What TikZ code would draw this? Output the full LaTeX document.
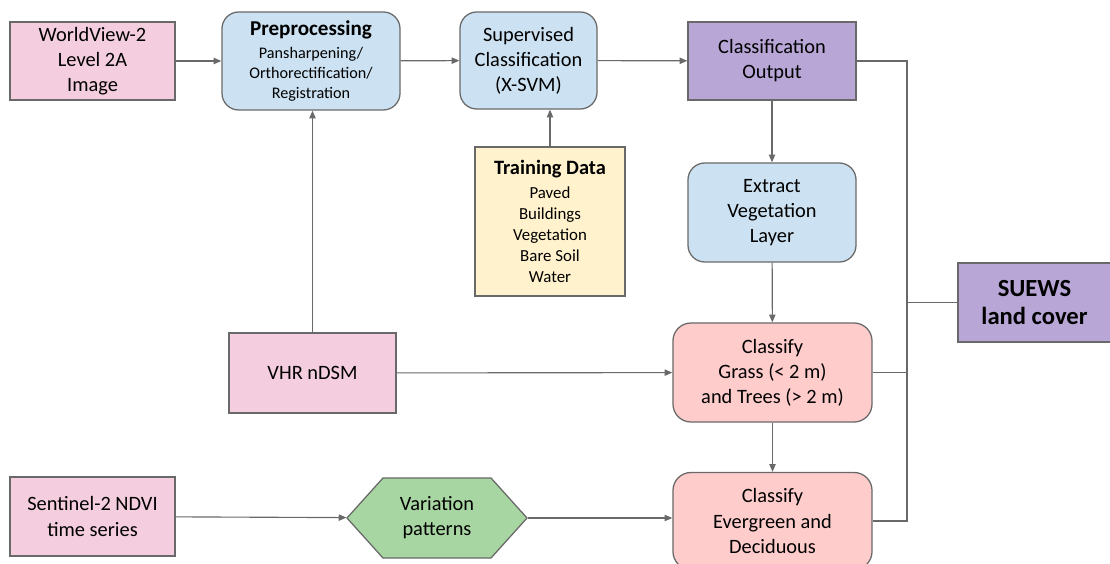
\documentclass[tikz,border=0pt]{standalone}
\usepackage{fontspec}
\setmainfont{Carlito}
\usetikzlibrary{arrows.meta}
\usetikzlibrary{shapes.symbols}
\definecolor{input-pink}{RGB}{244,206,222}
\definecolor{proc-blue}{RGB}{204,226,242}
\definecolor{out-purple}{RGB}{183,166,214}
\definecolor{data-yellow}{RGB}{255,242,204}
\definecolor{class-red}{RGB}{255,204,204}
\definecolor{hex-green}{RGB}{168,214,162}
\definecolor{edge-gray}{RGB}{105,105,105}
\newcommand{\mainsize}{\fontsize{14.5}{17.8}\selectfont}
\newcommand{\subsize}{\fontsize{11.5}{14.2}\selectfont}
\newcommand{\listsize}{\fontsize{12}{15}\selectfont}

\begin{document}
\begin{tikzpicture}[x=0.025cm,y=-0.025cm,
  box/.style={draw=edge-gray, line width=0.9pt, align=center, inner sep=0pt, font=\mainsize},
  inbox/.style={box, fill=input-pink},
  procbox/.style={box, fill=proc-blue, rounded corners=0.42cm},
  outbox/.style={box, fill=out-purple},
  databox/.style={box, fill=data-yellow, font=\listsize},
  classbox/.style={box, fill=class-red, rounded corners=0.45cm},
  hexbox/.style={box, fill=hex-green, signal, signal to=east and west, signal pointer angle=96},
  flow/.style={draw=edge-gray, line width=0.8pt, -{Triangle[length=5.5pt,width=4.5pt]}},
  link/.style={draw=edge-gray, line width=0.8pt}]
\useasboundingbox (0,0) rectangle (1110,564);

% inputs
\node[inbox, minimum width=4.125cm, minimum height=1.95cm] (wv) at (92.5,61) {WorldView-2\\Level 2A\\Image};
\node[inbox, minimum width=4.175cm, minimum height=2cm] (vhr) at (312.5,373) {VHR nDSM};
\node[inbox, minimum width=4.125cm, minimum height=1.975cm] (sent) at (92.5,516.5) {Sentinel-2 NDVI\\time series};

% processing chain
\node[procbox, minimum width=4.45cm, minimum height=2.45cm, font=\subsize] (prep) at (311,61)
  {{\fontsize{15}{15}\selectfont\bfseries Preprocessing}\\[2pt]Pansharpening/\\Orthorectification/\\Registration};
\node[procbox, minimum width=3.425cm, minimum height=2.425cm] (sup) at (528.5,60.5) {Supervised\\Classification\\(X-SVM)};
\node[outbox, minimum width=4.2cm, minimum height=1.95cm] (out) at (772,61) {Classification\\Output};
\node[databox, minimum width=3.75cm, minimum height=3.725cm] (train) at (550,221.5)
  {{\fontsize{14.5}{15}\selectfont\bfseries Training Data}\\[2pt]Paved\\Buildings\\Vegetation\\Bare Soil\\Water};
\node[procbox, minimum width=4.2cm, minimum height=2.475cm] (extr) at (772,212.5) {Extract\\Vegetation\\Layer};
\node[classbox, minimum width=4.975cm, minimum height=2.475cm] (grass) at (772.5,372.5) {Classify\\Grass (< 2 m)\\and Trees (> 2 m)};
\node[classbox, minimum width=4.975cm, minimum height=2.425cm] (ever) at (772.5,521) {Classify\\Evergreen and\\Deciduous};
\node[hexbox, minimum width=4.5cm, minimum height=2cm] (var) at (437,518) {Variation\\patterns};
\node[outbox, minimum width=3.825cm, minimum height=1.975cm, font=\fontsize{17.5}{20}\selectfont\bfseries] (suews) at (1034.5,302.5) {SUEWS\\land cover};
\coordinate (bus) at (907,302.5);

% connectors
\draw[flow] (wv) -- (prep);
\draw[flow] (prep) -- (sup);
\draw[flow] (sup) -- (out);
\draw[flow] (train.north) -- (train.north |- sup.south);
\draw[flow] (vhr.north) -- (vhr.north |- prep.south);
\draw[flow] (out) -- (extr);
\draw[flow] (extr) -- (grass);
\draw[flow] (grass) -- (ever);
\draw[flow] (vhr) -- (grass);
\draw[flow] (sent) -- (var);
\draw[flow] (var.east) -- (var.east -| ever.west);
\draw[link] (out.east) -| (bus) -- (suews.west);
\draw[link] (grass.east) -- (grass.east -| bus);
\draw[link] (ever.east) -| (bus);
\end{tikzpicture}
\end{document}
